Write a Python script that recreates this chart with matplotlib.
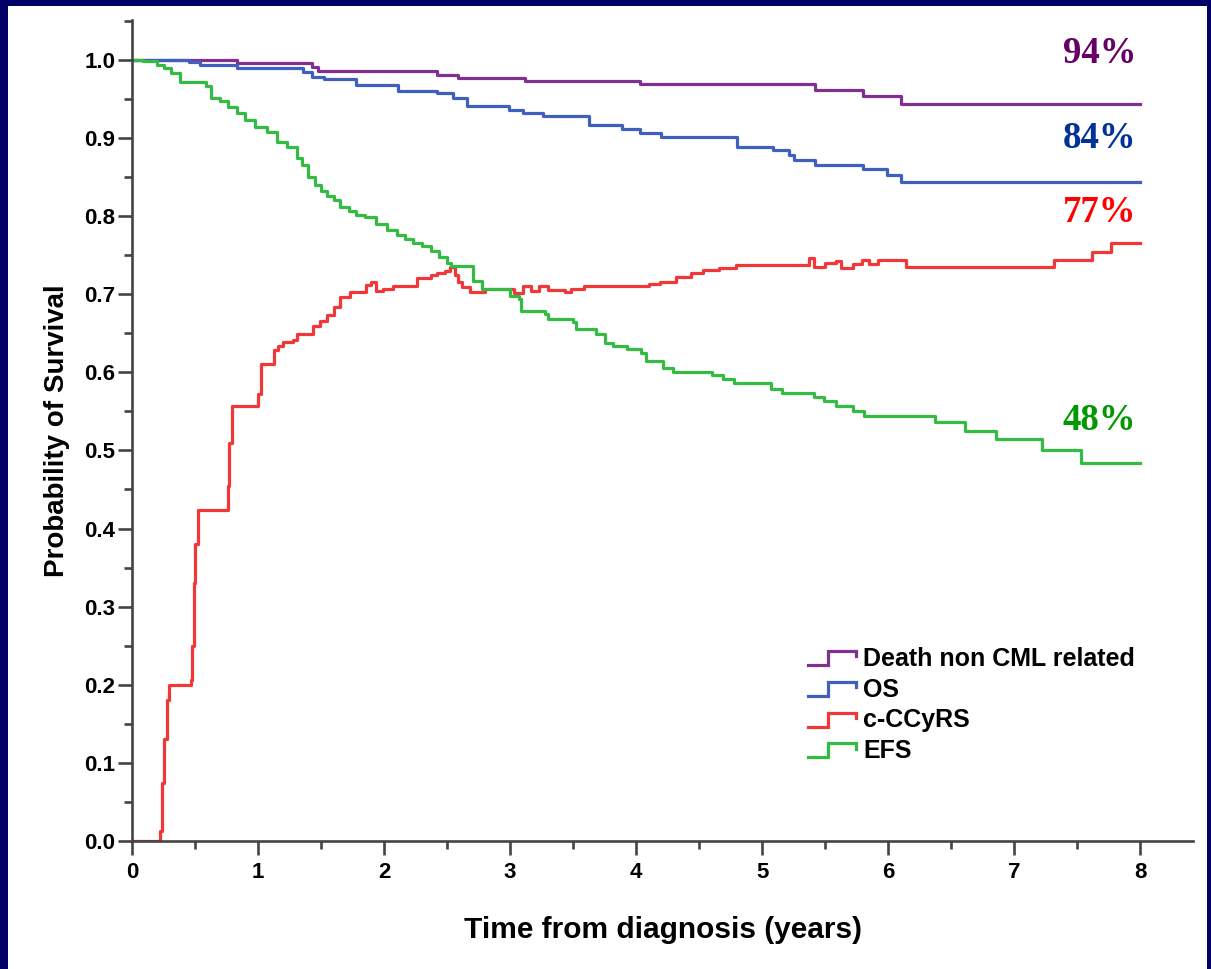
import matplotlib
matplotlib.use('Agg')
import matplotlib.pyplot as plt
from matplotlib.legend_handler import HandlerBase
from matplotlib.lines import Line2D
from matplotlib.patches import Rectangle
from matplotlib.ticker import MultipleLocator, FormatStrFormatter

# Kaplan-Meier style curves (time in years, probability)
death_t = [0, 0.83, 1.43, 1.48, 2.42, 2.59, 3.12, 4.03, 5.42, 5.80, 6.10, 8.0]
death_v = [1.0, 0.9965, 0.991, 0.986, 0.981, 0.977, 0.973, 0.969, 0.9615, 0.954, 0.944, 0.944]

os_t = [0, 0.45, 0.54, 0.83, 1.36, 1.43, 1.52, 1.78, 2.11, 2.42, 2.55, 2.66, 2.99,
        3.10, 3.26, 3.63, 3.89, 4.03, 4.20, 4.80, 5.09, 5.21, 5.25, 5.42, 5.80,
        5.99, 6.10, 8.0]
os_v = [1.0, 0.997, 0.993, 0.989, 0.985, 0.978, 0.975, 0.968, 0.960, 0.957, 0.951,
        0.941, 0.936, 0.9325, 0.928, 0.917, 0.911, 0.906, 0.901, 0.889, 0.884, 0.878,
        0.872, 0.866, 0.860, 0.853, 0.843, 0.843]

ccyrs_t = [0, 0.21, 0.22, 0.24, 0.25, 0.28, 0.29, 0.47, 0.48, 0.49, 0.50, 0.52, 0.76,
           0.77, 0.79, 1.00, 1.02, 1.13, 1.16, 1.20, 1.28, 1.31, 1.44, 1.49, 1.55,
           1.60, 1.65, 1.73, 1.86, 1.90, 1.94, 1.99, 2.07, 2.26, 2.37, 2.42, 2.48,
           2.52, 2.56, 2.59, 2.62, 2.68, 2.80, 3.03, 3.10, 3.17, 3.23, 3.30, 3.44,
           3.48, 3.59, 4.10, 4.19, 4.32, 4.44, 4.53, 4.66, 4.79, 5.37, 5.41, 5.50,
           5.59, 5.63, 5.72, 5.79, 5.85, 5.92, 6.14, 7.32, 7.62, 7.77, 8.0]
ccyrs_v = [0, 0, 0.013, 0.074, 0.13, 0.18, 0.20, 0.206, 0.25, 0.33, 0.38, 0.424, 0.455,
           0.51, 0.557, 0.572, 0.61, 0.628, 0.634, 0.639, 0.641, 0.649, 0.659, 0.666,
           0.673, 0.684, 0.697, 0.703, 0.712, 0.716, 0.704, 0.707, 0.711, 0.721, 0.725,
           0.727, 0.730, 0.735, 0.725, 0.715, 0.709, 0.703, 0.707, 0.702, 0.711, 0.704,
           0.710, 0.705, 0.703, 0.707, 0.710, 0.713, 0.716, 0.722, 0.727, 0.731, 0.734,
           0.737, 0.746, 0.735, 0.740, 0.743, 0.734, 0.739, 0.744, 0.739, 0.744, 0.735,
           0.744, 0.754, 0.766, 0.766]

efs_t = [0, 0.09, 0.20, 0.25, 0.31, 0.38, 0.53, 0.59, 0.63, 0.70, 0.76, 0.83, 0.90,
         0.98, 1.07, 1.15, 1.23, 1.31, 1.35, 1.40, 1.45, 1.50, 1.55, 1.60, 1.65,
         1.72, 1.78, 1.85, 1.94, 2.02, 2.10, 2.17, 2.23, 2.30, 2.37, 2.44, 2.50,
         2.53, 2.71, 2.78, 3.00, 3.07, 3.09, 3.28, 3.30, 3.50, 3.52, 3.68, 3.75,
         3.82, 3.93, 4.04, 4.08, 4.21, 4.29, 4.60, 4.69, 4.78, 5.07, 5.16, 5.41,
         5.49, 5.59, 5.72, 5.81, 6.37, 6.61, 6.86, 7.22, 7.53, 8.0]
efs_v = [1.0, 0.998, 0.993, 0.989, 0.983, 0.972, 0.971, 0.966, 0.951, 0.947, 0.940,
         0.932, 0.923, 0.914, 0.908, 0.895, 0.889, 0.874, 0.865, 0.850, 0.840, 0.832,
         0.826, 0.820, 0.812, 0.806, 0.801, 0.799, 0.790, 0.782, 0.776, 0.771, 0.766,
         0.762, 0.755, 0.748, 0.740, 0.736, 0.717, 0.707, 0.698, 0.694, 0.679, 0.674,
         0.668, 0.664, 0.655, 0.649, 0.638, 0.634, 0.630, 0.625, 0.615, 0.606, 0.601,
         0.596, 0.591, 0.586, 0.579, 0.574, 0.568, 0.563, 0.557, 0.551, 0.544, 0.537,
         0.525, 0.515, 0.501, 0.484, 0.484]

labels = ["Death non CML related", "OS", "c-CCyRS", "EFS"]
line_colors = ["#803090", "#4060C0", "#F03838", "#33BB44"]
pct_text = ["94%", "84%", "77%", "48%"]
pct_colors = ["#660066", "#003399", "#FF0000", "#009900"]
pct_y = [0.996, 0.887, 0.793, 0.526]


class StepHandler(HandlerBase):
    # legend icon drawn as a little step, like the SPSS survival legend
    def create_artists(self, legend, orig_handle, xdescent, ydescent,
                       width, height, fontsize, trans):
        x0, y0 = -xdescent, -ydescent
        xs = [x0, x0 + 0.42 * width, x0 + 0.42 * width, x0 + width, x0 + width]
        ys = [y0 + 0.05 * height, y0 + 0.05 * height, y0 + 0.85 * height,
              y0 + 0.85 * height, y0 + 0.55 * height]
        ln = Line2D(xs, ys, color=orig_handle.get_color(),
                    lw=orig_handle.get_linewidth(), solid_joinstyle='miter')
        ln.set_transform(trans)
        return [ln]


W, H = 1211, 969
fig = plt.figure(figsize=(W / 100, H / 100), dpi=100)
fig.patch.set_facecolor('#000066')
fig.add_artist(Rectangle((8 / W, 0), (1207 - 8) / W, (H - 6) / H,
                         transform=fig.transFigure, facecolor='white',
                         edgecolor='none', zorder=0))

ax = fig.add_axes([132 / W, (H - 841) / H, (1193 - 132) / W, (841 - 20) / H])
ax.set_facecolor('none')

series = [(death_t, death_v), (os_t, os_v), (ccyrs_t, ccyrs_v), (efs_t, efs_v)]
handles = []
for (t, v), lab, col in zip(series, labels, line_colors):
    h, = ax.step(t, v, where='post', color=col, lw=2.3, label=lab)
    handles.append(h)

for txt, col, yv in zip(pct_text, pct_colors, pct_y):
    ax.text(7.97, yv, txt, color=col, ha='right', va='baseline',
            fontsize=26.5, fontweight='bold', family='Liberation Serif')

ax.set_xlim(0, 8.42)
ax.set_ylim(0, 1.051)
ax.xaxis.set_major_locator(MultipleLocator(1))
ax.xaxis.set_minor_locator(MultipleLocator(0.5))
ax.yaxis.set_major_locator(MultipleLocator(0.1))
ax.yaxis.set_minor_locator(MultipleLocator(0.05))
ax.yaxis.set_major_formatter(FormatStrFormatter('%.1f'))

for s in ['top', 'right']:
    ax.spines[s].set_visible(False)
for s in ['left', 'bottom']:
    ax.spines[s].set_color('#444444')
    ax.spines[s].set_linewidth(1.9)
ax.tick_params(which='major', length=10, width=1.9, color='#444444',
               labelsize=16, pad=2)
ax.tick_params(which='minor', length=6, width=1.9, color='#444444')
for lab in ax.get_xticklabels() + ax.get_yticklabels():
    lab.set_fontweight('bold')
    lab.set_family('Liberation Sans')
ax.tick_params(axis='x', which='major', pad=5)

ax.set_xlabel("Time from diagnosis (years)", fontsize=21.5, fontweight='bold',
              family='Liberation Sans', labelpad=24)
ax.set_ylabel("Probability of Survival", fontsize=20, fontweight='bold',
              family='Liberation Sans', labelpad=10)

ax.legend(handles=handles, labels=labels, loc='upper left',
          bbox_to_anchor=(808 / W, (H - 647) / H), bbox_transform=fig.transFigure,
          frameon=False, borderpad=0, borderaxespad=0, handlelength=1.9,
          handletextpad=0.3, labelspacing=0.27,
          prop={'family': 'Liberation Sans', 'weight': 'bold', 'size': 18},
          handler_map={Line2D: StepHandler()})

fig.savefig('out.png', dpi=100, facecolor=fig.get_facecolor())
